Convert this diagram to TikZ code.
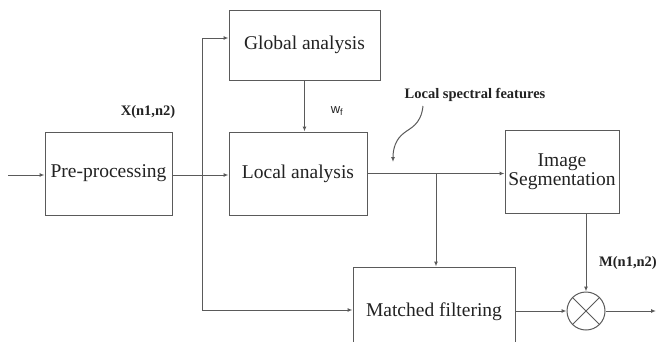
\documentclass[tikz,border=0pt]{standalone}
\usepackage{fontspec}
\setmainfont{Liberation Serif}
\setsansfont{Liberation Sans}
\usetikzlibrary{arrows.meta}
\definecolor{linec}{HTML}{5A5A5A}
\definecolor{textc}{HTML}{222222}
\begin{document}
\begin{tikzpicture}[x=1pt,y=-1pt,
  blk/.style={draw=linec,line width=1pt,rectangle,inner sep=0pt},
  lbl/.style={text=textc,font=\fontsize{19.5}{21}\selectfont,inner sep=0pt},
  small/.style={text=textc,font=\bfseries\fontsize{14.5}{16}\selectfont,inner sep=0pt},
  conn/.style={draw=linec,line width=1pt},
  arr/.style={conn,-{Latex[length=5pt,width=4pt]}}]
\useasboundingbox (0,0) rectangle (662,341);
\clip (0,0) rectangle (662,341);
% boxes
\node[blk,minimum width=151pt,minimum height=70pt] (glob) at (304.5,45) {};
\node[lbl] at (glob) {Global analysis};
\node[blk,minimum width=138pt,minimum height=83pt] (loc) at (298,173.5) {};
\node[lbl] at (loc) {Local analysis};
\node[blk,minimum width=127pt,minimum height=83pt] (pre) at (108.5,173.5) {};
\node[lbl] at (pre) {Pre-processing};
\node[blk,minimum width=114pt,minimum height=83pt] (seg) at (562,171.5) {};
\node[lbl,align=center] at (seg) {Image\\[-2pt]Segmentation};
\node[blk,minimum width=162pt,minimum height=90pt] (mf) at (434,312) {};
\node[lbl] at (434,312) {Matched filtering};
\node[draw=linec,line width=1pt,circle,minimum size=38pt,inner sep=0pt] (mul) at (586,311) {};
\draw[conn] (mul.north west) -- (mul.south east);
\draw[conn] (mul.north east) -- (mul.south west);
% coordinates
\coordinate (in) at (8,175);
\coordinate (split) at (202,175);
\coordinate (topc) at (202,38);
\coordinate (botc) at (202,310);
\coordinate (br) at (436,173.5);
\coordinate (out) at (656,311);
% connectors
\draw[arr] (in) -- (in -| pre.west);
\draw[arr] (pre.east |- in) -- (loc.west |- in);
\draw[arr] (split) -- (topc) -- (topc -| glob.west);
\draw[arr] (split) -- (botc) -- (mf.west |- botc);
\draw[arr] (glob.south) -- (glob.south |- loc.north);
\draw[arr] (loc.east |- br) -- (seg.west |- br);
\draw[arr] (br) -- (br |- mf.north);
\draw[arr] (mul.center |- seg.south) -- (mul.north);
\draw[arr] (mf.east |- mul) -- (mul.west);
\draw[arr] (mul.east) -- (out);
% labels
\node[small] (xl) at (148,112) {X(n1,n2)};
\node[small] (ml) at (628,263) {M(n1,n2)};
\node[text=textc,font=\sffamily\fontsize{13}{15}\selectfont,inner sep=0pt] (wf) at (337,111) {w$_{\mathsf f}$};
\node[small] (lsf) at (475,95) {Local spectral features};
\coordinate (ctop) at (423,106);
\coordinate (cend) at (393,162);
\draw[conn,-{Latex[length=5pt,width=4pt]}] (ctop) .. controls (421,125) and (410,128) .. (404,133) .. controls (396,139) and (393,148) .. (cend);
\end{tikzpicture}
\end{document}
